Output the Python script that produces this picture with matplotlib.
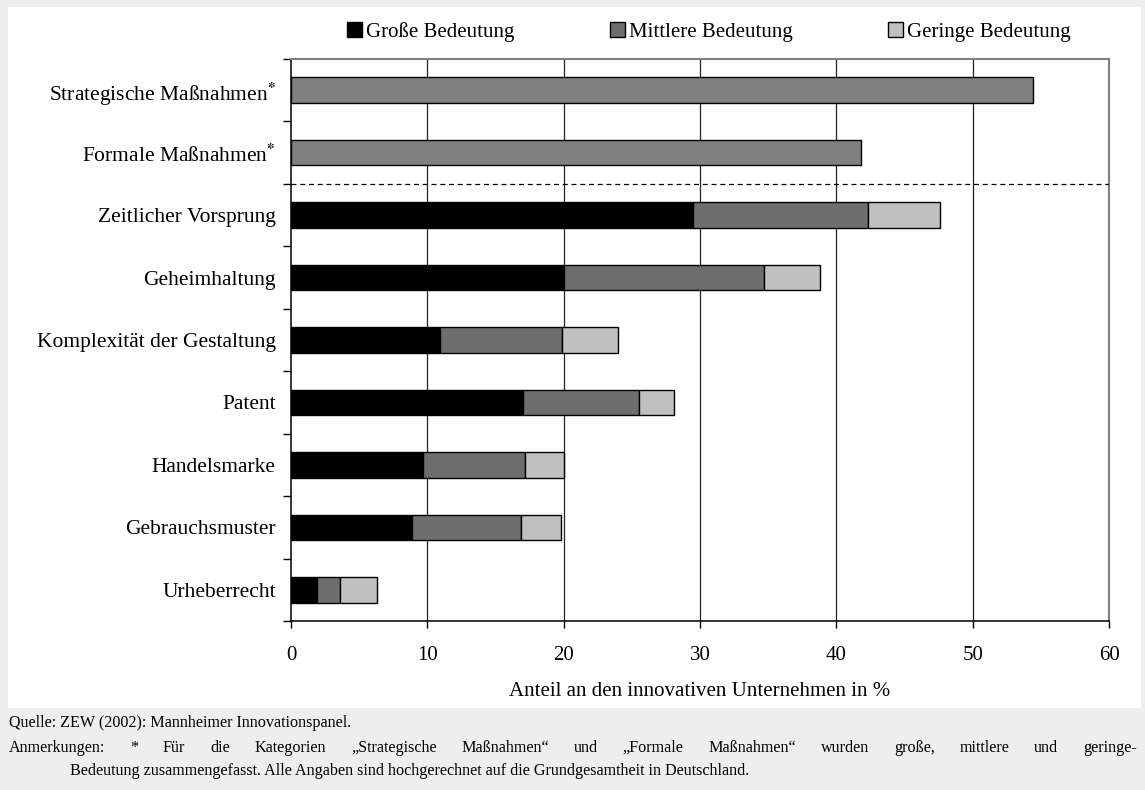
import matplotlib
matplotlib.use('Agg')
import matplotlib.pyplot as plt
from matplotlib.patches import Patch, Rectangle

plt.rcParams['font.family'] = ['Liberation Serif', 'DejaVu Serif']
plt.rcParams['mathtext.fontset'] = 'stix'

categories = [
    'Strategische Maßnahmen$^{\\mathbf{*}}$',
    'Formale Maßnahmen$^{\\mathbf{*}}$',
    'Zeitlicher Vorsprung',
    'Geheimhaltung',
    'Komplexität der Gestaltung',
    'Patent',
    'Handelsmarke',
    'Gebrauchsmuster',
    'Urheberrecht',
]
# combined importance (only for the two strategic/formal categories)
combined = [54.4, 41.8]
grosse = [29.5, 20.0, 10.9, 17.0, 9.7, 8.9, 1.9]
mittlere = [12.8, 14.7, 9.0, 8.5, 7.5, 8.0, 1.7]
geringe = [5.3, 4.1, 4.1, 2.6, 2.8, 2.9, 2.7]
series_labels = ['Große Bedeutung', 'Mittlere Bedeutung', 'Geringe Bedeutung']

BG = '#eeeeee'
C_BLACK = '#000000'
C_MID = '#6e6e6e'
C_LIGHT = '#c0c0c0'
C_COMB = '#808080'
FS = 15
FS_Y = 15.5
FS_NOTE = 11.6

fig = plt.figure(figsize=(11.45, 7.9), dpi=100, facecolor=BG)
W, H = 1145, 790
fig.patches.append(Rectangle((8 / W, 1 - 708 / H), (1141 - 8) / W, (708 - 7) / H,
                             transform=fig.transFigure, facecolor='white',
                             edgecolor='none', zorder=-5))

ax = fig.add_axes([291 / W, 1 - 621 / H, (1109 - 291) / W, (621 - 59) / H])
ax.set_zorder(2)
ax.set_facecolor('white')

bh = 0.41
ax.barh(range(len(combined)), combined, height=bh, color=C_COMB,
        edgecolor='black', linewidth=1, zorder=3)
ys = range(len(combined), len(categories))
left = [0] * len(grosse)
for vals, col in [(grosse, C_BLACK), (mittlere, C_MID), (geringe, C_LIGHT)]:
    ax.barh(ys, vals, left=left, height=bh, color=col, edgecolor='black',
            linewidth=1, zorder=3)
    left = [a + b for a, b in zip(left, vals)]

ax.axhline(1.5, color='black', linestyle=(0, (4, 3)), linewidth=0.9, zorder=4)

ax.set_xlim(0, 60)
ax.set_ylim(len(categories) - 0.5, -0.5)
ax.set_xticks(range(0, 61, 10))
ax.tick_params(axis='x', length=5, width=1, pad=13, labelsize=FS, direction='out')
ax.set_yticks(range(len(categories)))
ax.set_yticklabels(categories, fontsize=FS_Y)
ax.tick_params(axis='y', which='major', length=0, pad=11)
ax.set_yticks([i - 0.5 for i in range(len(categories) + 1)], minor=True)
ax.tick_params(axis='y', which='minor', length=6, width=1, direction='out')
for v in range(10, 60, 10):
    ax.axvline(v, color='#222222', linewidth=0.9, zorder=1)

for side in ['left', 'bottom']:
    ax.spines[side].set_color('black')
    ax.spines[side].set_linewidth(1.1)
for side in ['top', 'right']:
    ax.spines[side].set_color('#808080')
    ax.spines[side].set_linewidth(1.5)

ax.set_xlabel('Anteil an den innovativen Unternehmen in %', fontsize=FS, labelpad=12)

handles = [Patch(facecolor=c, edgecolor='black', linewidth=1)
           for c in (C_BLACK, C_MID, C_LIGHT)]
fig.legend(handles, series_labels, loc='center', ncol=3, frameon=False,
           bbox_to_anchor=(709 / W, 1 - 32 / H), fontsize=FS,
           handlelength=0.7, handleheight=0.7, handletextpad=0.2,
           columnspacing=4.6)

fig.text(9 / W, 1 - 723 / H, 'Quelle: ZEW (2002): Mannheimer Innovationspanel.',
         fontsize=FS_NOTE, va='center', ha='left')

# justified first line of the note
note_line = ('Anmerkungen: * Für die Kategorien \u201eStrategische Maßnahmen\u201c und '
             '\u201eFormale Maßnahmen\u201c wurden große, mittlere und geringe-')
words = note_line.split(' ')
renderer = fig.canvas.get_renderer()
word_texts = []
widths = []
for w in words:
    t = fig.text(0, 1 - 748 / H, w, fontsize=FS_NOTE, va='center', ha='left')
    word_texts.append(t)
    widths.append(t.get_window_extent(renderer).width)
x0, x1 = 9, 1137
gap = (x1 - x0 - sum(widths)) / (len(words) - 1)
x = x0
for t, wd in zip(word_texts, widths):
    t.set_x(x / W)
    x += wd + gap

fig.text(70 / W, 1 - 771 / H,
         'Bedeutung zusammengefasst. Alle Angaben sind hochgerechnet auf die '
         'Grundgesamtheit in Deutschland.',
         fontsize=FS_NOTE, va='center', ha='left')

fig.savefig('out.png', dpi=100, facecolor=BG)
